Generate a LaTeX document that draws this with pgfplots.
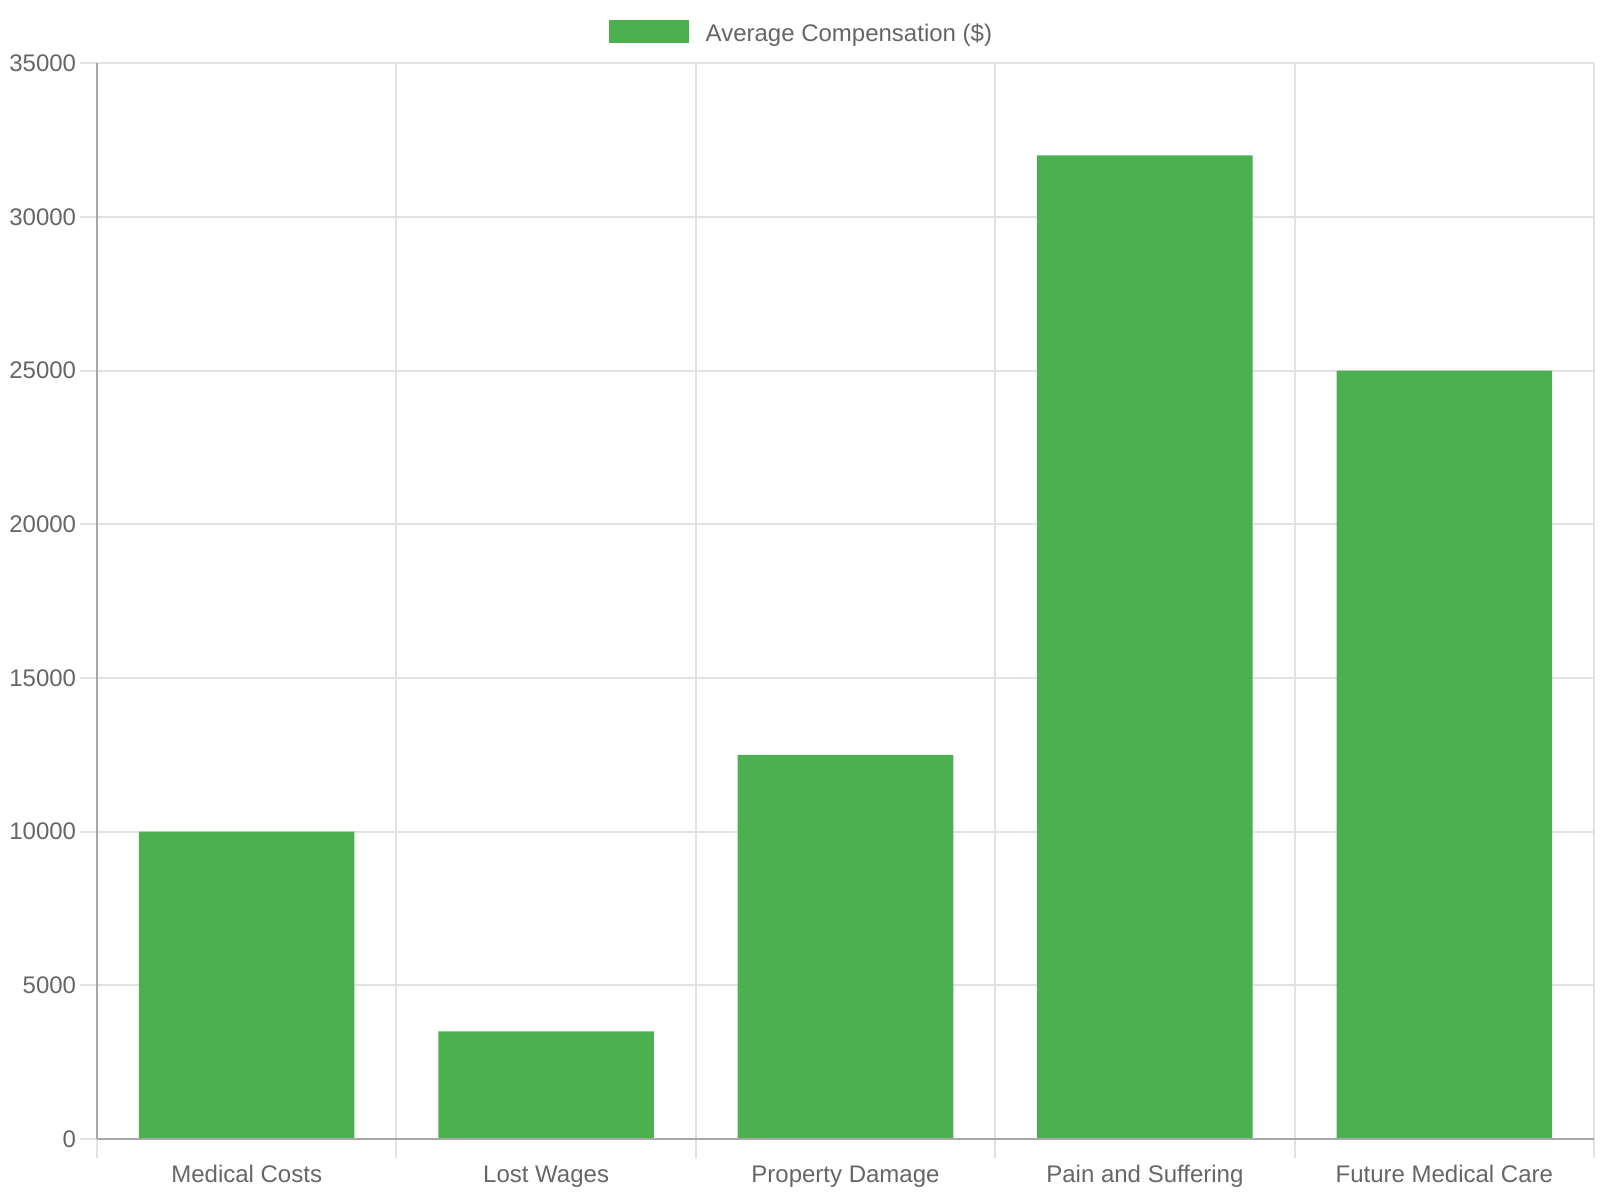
\documentclass[12pt,border=0pt]{standalone}
\usepackage{pgfplots}
\pgfplotsset{compat=1.18}
\usepackage{fontspec}
\setmainfont{Liberation Sans}
\definecolor{bargreen}{HTML}{4CAF50}
\definecolor{gridgray}{HTML}{E2E2E2}
\definecolor{axisgray}{HTML}{A8A8A8}
\definecolor{textgray}{HTML}{666666}
\begin{document}
\begin{tikzpicture}
% page is 1600x1200 px at 0.5pt per px; origin at the plot's lower left corner
\path[use as bounding box] (-48.5pt,-30.5pt) rectangle (751.5pt,569.5pt);
\begin{axis}[
   at={(0pt,0pt)}, anchor=south west,
   width=748.5pt, height=537.9pt, scale only axis,
   xmin=-0.5, xmax=4.5,
   ymin=0, ymax=35000,
   axis lines=left,
   axis line style={draw=axisgray, line width=1pt, -},
   xtick={0,...,4},
   xticklabels={Medical Costs, Lost Wages, Property Damage, Pain and Suffering, Future Medical Care},
   minor xtick={-0.5,0.5,...,4.5},
   ytick={0,5000,...,35000},
   xminorgrids, ymajorgrids,
   grid style={draw=gridgray, line width=1pt},
   tick align=outside,
   major tick length=8.5pt,
   minor tick length=9.5pt,
   major x tick style={draw=none},
   major y tick style={draw=gridgray, line width=1pt},
   minor x tick style={draw=gridgray, line width=1pt},
   scaled y ticks=false,
   /pgf/number format/1000 sep={},
   /pgf/number format/assume math mode=true,
   tick label style={text=textgray},
   x tick label style={anchor=base, yshift=-13.3pt},
   y tick label style={anchor=east, xshift=2.25pt},
   legend style={draw=none, fill=none, at={(0.4712,1.0272)}, anchor=center,
      text=textgray, inner sep=0pt,
      /tikz/every odd column/.append style={column sep=6.5pt}},
   legend image code/.code={\fill[bargreen] (0pt,-4.5pt) rectangle (40pt,6.9pt);},
   clip=false
]
\addplot[ybar, bar width=0.72, fill=bargreen, draw=none] coordinates {
   (0, 10000)
   (1, 3500)
   (2, 12500)
   (3, 32000)
   (4, 25000)
};
\addlegendentry{Average Compensation (\$)}
\draw[axisgray, line width=1pt] (rel axis cs:0,0) -- (rel axis cs:1,0);
\end{axis}
\end{tikzpicture}
\end{document}
